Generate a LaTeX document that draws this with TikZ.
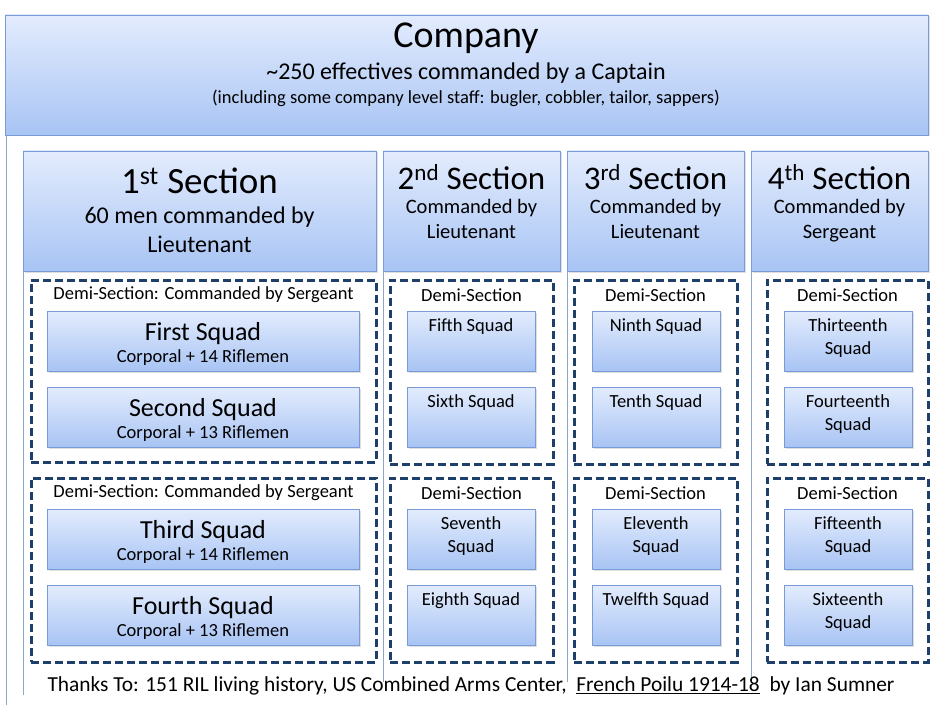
\documentclass[tikz,border=0pt]{standalone}
\usepackage{fontspec}
\setmainfont{Carlito}
\usetikzlibrary{shadows}
\definecolor{bd}{HTML}{7A9CD6}
\definecolor{tp}{HTML}{E3ECFD}
\definecolor{bt}{HTML}{A8C4F4}
\definecolor{dsh}{HTML}{1F3F6B}
\definecolor{ln}{HTML}{8DA6CC}
\tikzset{
 box/.style={draw=bd, top color=tp, bottom color=bt, align=center, inner sep=0pt,
   drop shadow={shadow xshift=1.5pt,shadow yshift=-1.5pt,opacity=0.25}},
 demi/.style={draw=dsh, line width=3pt, dash pattern=on 8pt off 4pt},
 sep/.style={draw=ln, line width=0.8pt},
 lbl/.style={font=\fontsize{18.5}{20}\selectfont, inner sep=0pt},
 txt/.style={inner sep=0pt, align=center}
}
\newcommand{\bx}[5]{\node[box, minimum width=#3-#1, minimum height=#4-#2] (#5) at ({(#1+#3)/2},{(#2+#4)/2}) {};}
\newcommand{\dbx}[5]{\node[demi, minimum width=#3-#1, minimum height=#4-#2, inner sep=0pt] (#5) at ({(#1+#3)/2},{(#2+#4)/2}) {};}
\begin{document}
\begin{tikzpicture}[x=1pt,y=-1pt]
\useasboundingbox[fill=white] (0,0) rectangle (933,711);
% frame lines
\coordinate (f1) at (6,135); \coordinate (f2) at (6,705);
\draw[sep] (f1) -- (f2);
\coordinate (c1a) at (23,271); \coordinate (c1b) at (23,695);
\draw[sep] (c1a) -- (c1b);
\foreach \x/\n in {383/c2,567/c3,751/c4}{
 \coordinate (\n a) at (\x,271); \coordinate (\n b) at (\x,682);
 \draw[sep] (\n a) -- (\n b);}
% company
\bx{5}{15}{928}{135}{comp}
\node[txt, font=\fontsize{38}{40}\selectfont] (ct) at (466,38) {Company};
\node[txt, font=\fontsize{24}{26}\selectfont] (c2t) at (466,73) {\textasciitilde250 effectives commanded by a Captain};
\node[lbl] (c3t) at (466,98) {(including some company level staff: bugler, cobbler, tailor, sappers)};
% sections
\bx{23}{151}{376}{271}{s1}
\node[txt, font=\fontsize{37}{40}\selectfont] (s1t) at (199.5,181) {1\textsuperscript{st} Section};
\node[txt, font=\fontsize{24}{29}\selectfont] (s1s) at (199.5,230) {60 men commanded by\\Lieutenant};
\bx{383}{151}{560}{271}{s2}
\bx{567}{151}{744}{271}{s3}
\bx{751}{151}{928}{271}{s4}
\foreach \n/\c/\o/\w in {s2/471.5/2\textsuperscript{nd}/Lieutenant,s3/655.5/3\textsuperscript{rd}/Lieutenant,s4/839.5/4\textsuperscript{th}/Sergeant}{
 \node[txt, font=\fontsize{33}{36}\selectfont] (\n t) at (\c,177) {\o{} Section};
 \node[txt, anchor=north, font=\fontsize{20.5}{25}\selectfont] (\n s) at (\c,199) {Commanded by\\\w};
}
% demi sections
\dbx{31}{280}{376}{462}{d1}
\dbx{31}{478}{376}{662}{d2}
\dbx{390}{280}{553}{464}{d3}
\dbx{390}{478}{553}{662}{d4}
\dbx{574}{280}{737}{464}{d5}
\dbx{574}{478}{737}{662}{d6}
\dbx{767}{280}{928}{464}{d7}
\dbx{767}{478}{928}{662}{d8}
\node[lbl] (l1) at (203.5,295) {Demi-Section: Commanded by Sergeant};
\node[lbl] (l2) at (203.5,493) {Demi-Section: Commanded by Sergeant};
\node[lbl] (l3) at (471.5,295) {Demi-Section};
\node[lbl] (l4) at (471.5,493) {Demi-Section};
\node[lbl] (l5) at (655.5,295) {Demi-Section};
\node[lbl] (l6) at (655.5,493) {Demi-Section};
\node[lbl] (l7) at (847.5,295) {Demi-Section};
\node[lbl] (l8) at (847.5,493) {Demi-Section};
% big squads
\foreach \n/\y/\t/\r in {q1/311/First Squad/14,q2/387/Second Squad/13,q3/509/Third Squad/14,q4/585/Fourth Squad/13}{
 \bx{47}{\y}{359}{\y+60}{\n}
 \node[txt, font=\fontsize{26}{28}\selectfont] (\n t) at (203,\y+23) {\t};
 \node[lbl] (\n s) at (203,\y+47) {Corporal + \r{} Riflemen};
}
% small squads
\foreach \n/\x/\y/\t in {q5/407/311/Fifth Squad,q6/407/387/Sixth Squad,q7/407/509/Seventh\\Squad,q8/407/585/Eighth Squad,
 q9/592/311/Ninth Squad,q10/592/387/Tenth Squad,q11/592/509/Eleventh\\Squad,q12/592/585/Twelfth Squad,
 q13/784/311/Thirteenth\\Squad,q14/784/387/Fourteenth\\Squad,q15/784/509/Fifteenth\\Squad,q16/784/585/Sixteenth\\Squad}{
 \bx{\x}{\y}{\x+128}{\y+60}{\n}
 \node[txt, anchor=north, font=\fontsize{18.5}{23.5}\selectfont] (\n t) at (\x+64,\y+7) {\t};
}
% footer
\node[txt, font=\fontsize{21.4}{23}\selectfont] (ft) at (471,686) {Thanks To: 151 RIL living history, US Combined Arms Center,\ \ \underline{French Poilu 1914-18}\ \ by Ian Sumner};
\end{tikzpicture}
\end{document}
